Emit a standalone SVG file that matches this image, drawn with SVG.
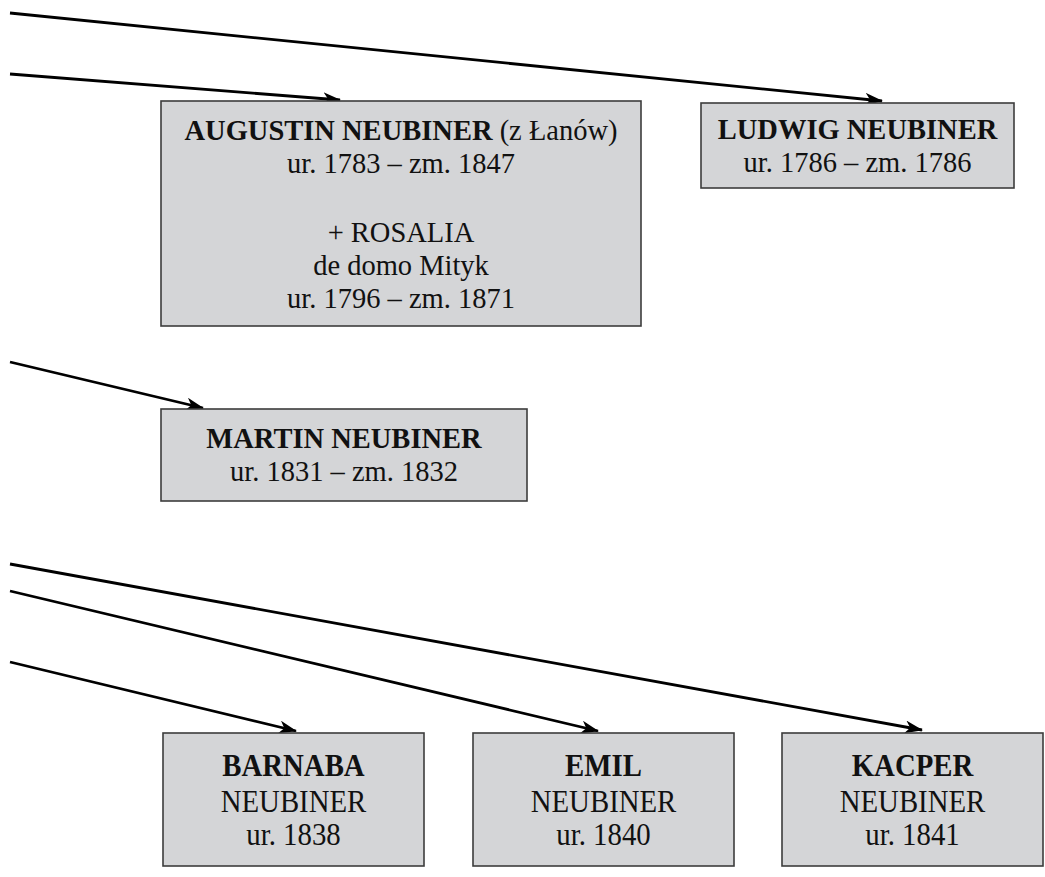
<svg xmlns="http://www.w3.org/2000/svg" width="1045" height="877" viewBox="0 0 1045 877">
<style>
.box{fill:#d4d5d7;stroke:#3c3c3c;stroke-width:1.6}
.t{font-family:"Liberation Serif","Times New Roman",serif;font-size:28.5px;fill:#111;text-anchor:middle}
.s{font-size:32px}
.b{font-weight:bold}
.c{fill:none;stroke:#000;stroke-width:2.8;marker-end:url(#ah)}
</style>
<defs>
<marker id="ah" markerUnits="userSpaceOnUse" markerWidth="20" markerHeight="14" refX="17" refY="6.5" orient="auto">
<path d="M0,0 L18,6.5 L0,13 L5,6.5 z" fill="#000"/>
</marker>
</defs>
<g id="connectors">
<line class="c" x1="10" y1="13" x2="882" y2="101"/>
<line class="c" x1="10" y1="74" x2="340" y2="100"/>
<line class="c" x1="10" y1="362" x2="203" y2="408"/>
<line class="c" x1="10" y1="564" x2="922" y2="730"/>
<line class="c" x1="10" y1="591" x2="598" y2="731"/>
<line class="c" x1="10" y1="662" x2="296" y2="731"/>
</g>
<g id="augustin">
<rect class="box" x="161" y="101" width="480" height="225"/>
<text class="t" x="401" y="140"><tspan class="b">AUGUSTIN NEUBINER</tspan> (z Łanów)</text>
<text class="t" x="401" y="173">ur. 1783 – zm. 1847</text>
<text class="t" x="401" y="242">+ ROSALIA</text>
<text class="t" x="401" y="275">de domo Mityk</text>
<text class="t" x="401" y="308">ur. 1796 – zm. 1871</text>
</g>
<g id="ludwig">
<rect class="box" x="701" y="103" width="313" height="85"/>
<text class="t b" x="857.5" y="139">LUDWIG NEUBINER</text>
<text class="t" x="857.5" y="172">ur. 1786 – zm. 1786</text>
</g>
<g id="martin">
<rect class="box" x="161" y="409" width="366" height="92"/>
<text class="t b" x="344" y="448">MARTIN NEUBINER</text>
<text class="t" x="344" y="481">ur. 1831 – zm. 1832</text>
</g>
<g id="barnaba">
<rect class="box" x="163" y="733" width="261" height="133"/>
<g transform="scale(0.9,1)">
<text class="t s b" x="326.1" y="776">BARNABA</text>
<text class="t s" x="326.1" y="812">NEUBINER</text>
<text class="t s" x="326.1" y="845">ur. 1838</text>
</g>
</g>
<g id="emil">
<rect class="box" x="473" y="733" width="261" height="133"/>
<g transform="scale(0.9,1)">
<text class="t s b" x="670.6" y="776">EMIL</text>
<text class="t s" x="670.6" y="812">NEUBINER</text>
<text class="t s" x="670.6" y="845">ur. 1840</text>
</g>
</g>
<g id="kacper">
<rect class="box" x="782" y="733" width="261" height="133"/>
<g transform="scale(0.9,1)">
<text class="t s b" x="1013.9" y="776">KACPER</text>
<text class="t s" x="1013.9" y="812">NEUBINER</text>
<text class="t s" x="1013.9" y="845">ur. 1841</text>
</g>
</g>
</svg>
